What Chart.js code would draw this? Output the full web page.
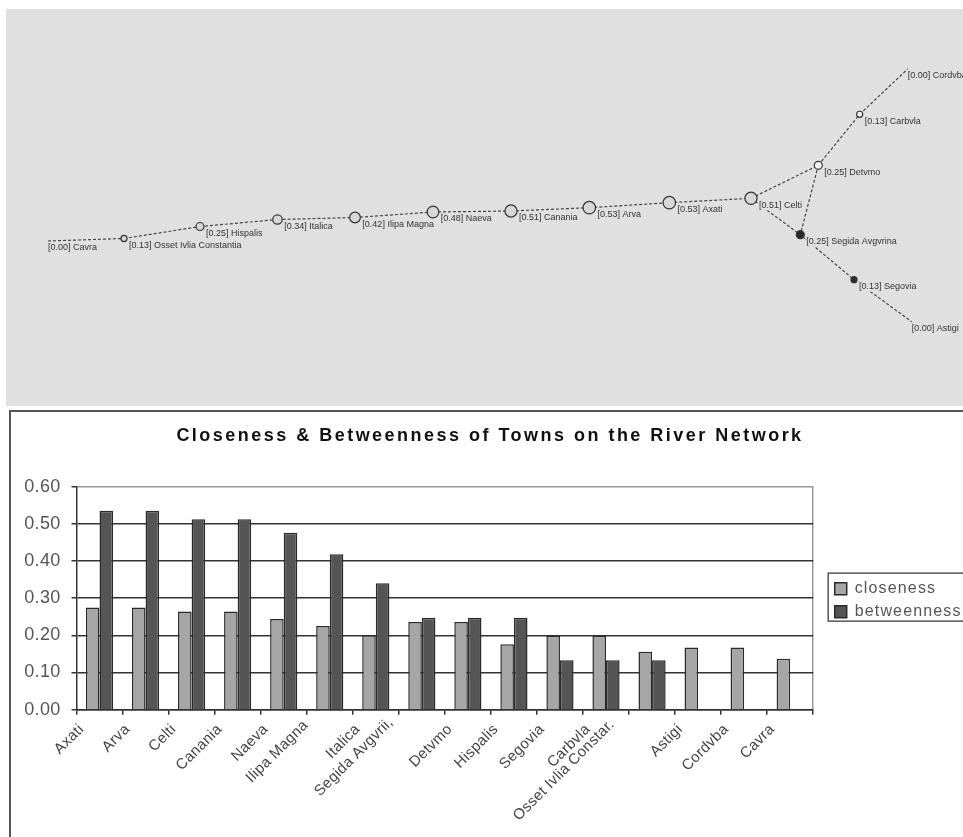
<!DOCTYPE html>
<html><head><meta charset="utf-8">
<style>
html,body{margin:0;padding:0;width:963px;height:837px;overflow:hidden;background:#fff}
#net{position:absolute;left:6px;top:9px}
#frame{position:absolute;left:9px;top:410px;width:960px;height:430px;border-left:2px solid #555;border-top:2px solid #555}
#bars{position:absolute;left:9px;top:410px}
</style>
<script src="https://cdn.jsdelivr.net/npm/chart.js@4"></script>
</head><body>
<canvas id="net" width="957" height="397"></canvas>
<div id="frame"></div>
<canvas id="bars" width="962" height="427"></canvas>
<script>
// Bar chart data
const categories = ["Axati","Arva","Celti","Canania","Naeva","Ilipa Magna","Italica","Segida Avgvrii,","Detvmo","Hispalis","Segovia","Carbvla","Osset Ivlia Constar.","Astigi","Cordvba","Cavra"];
const closeness = [0.275,0.275,0.264,0.264,0.244,0.225,0.20,0.236,0.236,0.176,0.199,0.199,0.156,0.167,0.167,0.137];
const betweenness = [0.535,0.535,0.512,0.512,0.476,0.418,0.34,0.247,0.247,0.247,0.133,0.133,0.133,0,0,0];
const yTicks = [0,0.1,0.2,0.3,0.4,0.5,0.6];
// River network data
const towns = ["Cavra","Osset Ivlia Constantia","Hispalis","Italica","Ilipa Magna","Naeva","Canania","Arva","Axati","Celti","Detvmo","Carbvla","Cordvba","Segida Avgvrina","Segovia","Astigi"];
const townValue = [0,0.13,0.25,0.34,0.42,0.48,0.51,0.53,0.53,0.51,0.25,0.13,0,0.25,0.13,0];
const townX = [48,124,200,277.5,355,433,511,589.3,669.3,751,818.3,859.7,907.7,800.3,854,911.7];
const townY = [241,238.5,226.5,219.5,217.5,212,211,207.7,202.7,198.3,165.3,114.3,69,234.7,279.7,321.7];
const townGroup = ["a","a","a","a","a","a","a","a","a","a","b","b","b","c","c","c"];
const edgeFrom = [0,1,2,3,4,5,6,7,8,9,9,10,10,11,13,14];
const edgeTo = [1,2,3,4,5,6,7,8,9,10,13,13,11,12,14,15];

const FONT = "'Liberation Sans', Arial, sans-serif";
const PANEL = "#dfe0df";
const groupFill = {a:"#d6d7d6", b:"#f4f5f4", c:"#2b2b2b"};
const radius = v => v === 0 ? 0 : 2 + 8 * v;
// the long labels sit further along the axis in the reference
const labelNudge = {"Ilipa Magna":[-6,-4],"Segida Avgvrii,":[-13,-7],"Osset Ivlia Constar.":[-22,-5]};

const netLabels = {
  id: "netLabels",
  afterDatasetsDraw(chart) {
    const ctx = chart.ctx, pts = chart.getDatasetMeta(0).data;
    ctx.save();
    ctx.font = "9px " + FONT;
    ctx.textBaseline = "middle";
    towns.forEach((name, i) => {
      const text = "[" + townValue[i].toFixed(2) + "] " + name;
      const r = radius(townValue[i]);
      const x = pts[i].x + (r ? r + 2 : 0), y = pts[i].y + 7;
      const w = ctx.measureText(text).width;
      ctx.fillStyle = PANEL;
      ctx.fillRect(x - 1, y - 5, w + 2, 10);
      ctx.fillStyle = "#333";
      ctx.fillText(text, x, y);
    });
    ctx.restore();
  }
};

new Chart(document.getElementById("net"), {
  type: "scatter",
  data: { datasets: [
    { data: towns.map((t,i)=>({x:townX[i],y:townY[i]})),
      pointRadius: townValue.map(radius),
      pointBackgroundColor: townGroup.map(g=>groupFill[g]),
      pointBorderColor: "#333", pointBorderWidth: 1.2, showLine:false },
    ...edgeFrom.map((a,k)=>({
      data:[{x:townX[a],y:townY[a]},{x:townX[edgeTo[k]],y:townY[edgeTo[k]]}],
      showLine:true, borderColor:"#444", borderWidth:1.2, borderDash:[3,2], pointRadius:0 }))
  ]},
  options: {
    responsive:false, animation:false, events:[],
    layout:{padding:0,autoPadding:false},
    plugins:{legend:{display:false},title:{display:false},tooltip:{enabled:false}},
    scales:{
      x:{type:"linear",min:6,max:963,display:false},
      y:{type:"linear",min:9,max:406,reverse:true,display:false}
    }
  },
  plugins:[netLabels,{id:"netPanel",beforeDraw(c){c.ctx.save();c.ctx.fillStyle=PANEL;c.ctx.fillRect(0,0,c.width,c.height);c.ctx.restore();}}]
});

const styling = {
  id:"styling",
  beforeUpdate(chart){ chart.ctx.letterSpacing = "0.3px"; },
  afterLayout(chart){
    const t = chart.titleBlock;
    if (t && !t._wrapped){
      const d = t.draw;
      t.draw = function(){ const c=this.ctx; c.save(); c.translate(11.6,0); c.letterSpacing="2.48px"; d.apply(this,arguments); c.restore(); };
      t._wrapped = true;
    }
    const l = chart.legend;
    l.left += 14.5; l.right += 14.5; l.top += 2; l.bottom += 2;
    if (!l._wrapped){
      const d = l.draw;
      l.draw = function(){
        const c=this.ctx, mid=(this.top+this.bottom)/2-3;
        c.save(); c.strokeStyle="#555"; c.lineWidth=1.5;
        c.strokeRect(this.left+0.5,mid-24,this.right-this.left+10,48);
        c.restore();
        const o=c.letterSpacing; c.letterSpacing="1.15px"; d.apply(this,arguments); c.letterSpacing=o;
      };
      l._wrapped = true;
    }
  }
};

new Chart(document.getElementById("bars"), {
  type:"bar",
  data:{ labels:categories, datasets:[
    {label:"closeness",data:closeness,backgroundColor:"#a6a6a6",borderColor:"#2a2a2a",borderWidth:1.5,categoryPercentage:0.59,barPercentage:1},
    {label:"betweenness",data:betweenness,backgroundColor:"#555",borderColor:"#2a2a2a",borderWidth:1.5,categoryPercentage:0.59,barPercentage:1}
  ]},
  options:{
    responsive:false, animation:false, events:[],
    layout:{padding:{left:0,top:0,bottom:0,right:23.2}},
    plugins:{
      tooltip:{enabled:false},
      title:{display:true,text:"Closeness & Betweenness of Towns on the River Network",
        color:"#111",font:{family:FONT,size:18,weight:"bold"},padding:{top:15,bottom:40}},
      legend:{display:true,position:"right",align:"center",fullSize:false,
        labels:{color:"#555",font:{family:FONT,size:16},boxWidth:12,boxHeight:12,padding:7}}
    },
    scales:{
      x:{
        offset:true,
        afterFit(s){s.height=127.3;},
        afterUpdate(s){
          if (s._nudged) return;
          s._nudged = true;
          const get = s.getLabelItems;
          s.getLabelItems = function(area){
            const items = get.call(this, area);
            if (!this._nudgeDone){
              items.forEach(it=>{
                const n = labelNudge[it.label];
                if (n){ it.options.translation = [it.options.translation[0]+n[0], it.options.translation[1]+n[1]]; }
              });
              this._nudgeDone = true;
            }
            return items;
          };
        },
        border:{color:"#333",width:1.5},
        grid:{offset:true,drawOnChartArea:true,drawTicks:true,tickLength:5,tickColor:"#333",tickWidth:1.5,
          color:c=>c.index===undefined?"#999":"rgba(0,0,0,0)",lineWidth:1.5},
        ticks:{autoSkip:false,minRotation:45,maxRotation:45,labelOffset:-18,padding:6,color:"#444",font:{family:FONT,size:15}}
      },
      y:{
        min:0,max:0.6,
        afterFit(s){s.width=67.5;},
        afterBuildTicks(s){s.ticks=yTicks.map(v=>({value:v}));},
        border:{color:"#333",width:1.5},
        grid:{color:c=>c.tick&&c.tick.value===0.6?"#999":"#333",lineWidth:1.5,tickLength:5,tickColor:"#333"},
        ticks:{padding:11,color:"#555",font:{family:FONT,size:18},callback:v=>v.toFixed(2)}
      }
    }
  },
  plugins:[styling]
});
</script>
</body></html>
